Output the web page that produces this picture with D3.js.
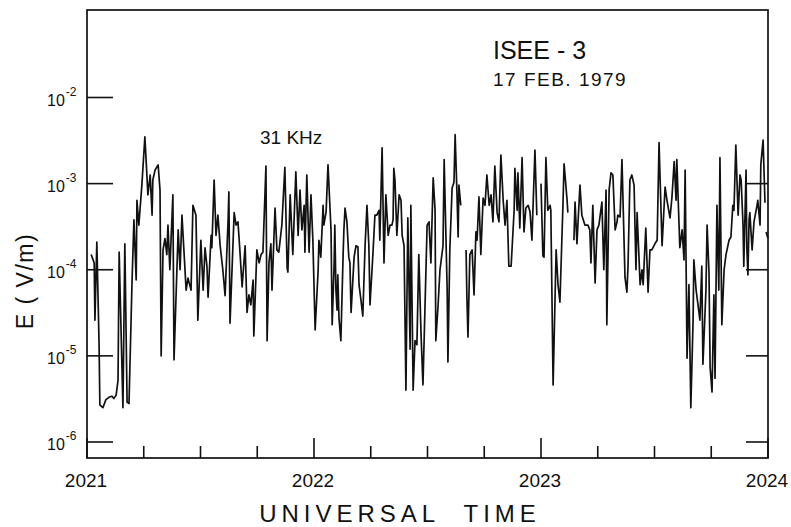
<!DOCTYPE html>
<html>
<head>
<meta charset="utf-8">
<script src="https://cdnjs.cloudflare.com/ajax/libs/d3/7.8.5/d3.min.js"></script>
<style>
  body { margin: 0; background: #fff; }
  text { font-family: "Liberation Sans", Arial, sans-serif; fill: #111; }
</style>
</head>
<body>
<svg id="chart"></svg>
<script>
// x axis: seconds after 20:21 UT, labelled by minute
const xTickSec = [0, 60, 120, 180];
const xTickLabels = ['2021', '2022', '2023', '2024'];
const xMinorSec = [15, 30, 45, 75, 90, 105, 135, 150, 165];
// y axis decades (log10 of V/m)
const yDecades = [-2, -3, -4, -5, -6];
const yRightDecades = [-3, -4, -5, -6];

// [seconds, E (V/m)]; null marks a data gap
const samples = [
  [1.1,1.5e-4],[1.9,1.2e-4],[2.1,2.6e-5],[2.6,2.1e-4],[3.2,1.3e-5],[3.4,2.7e-6],[4.2,2.5e-6],[5.0,3.1e-6],[5.8,3.3e-6],[6.6,3.4e-6],
  [7.1,3.2e-6],[7.7,3.5e-6],[8.2,5.2e-6],[8.5,1.6e-4],[9.5,2.5e-6],[10.0,2.0e-4],[10.6,2.9e-6],[11.1,2.8e-6],[11.9,7.2e-5],[12.4,3.8e-4],
  [13.0,7.6e-5],[13.2,6.4e-4],[13.7,3.3e-4],[14.0,4.9e-4],[14.5,9.6e-4],[15.3,3.5e-3],[16.1,7.4e-4],[16.7,1.26e-3],[17.2,4.3e-4],[17.4,1.1e-3],
  [18.0,1.44e-3],[18.8,1.65e-3],[19.3,8.4e-4],[19.6,1.0e-5],[20.1,1.7e-4],[20.6,2.3e-4],[21.1,1.5e-4],[21.4,3.3e-4],[21.9,1.0e-4],[22.7,7.4e-4],
  [23.0,9.0e-6],[24.1,2.9e-4],[24.6,1.0e-4],[25.1,4.3e-4],[26.2,5.8e-5],[26.7,8.0e-5],[27.5,5.8e-5],[28.0,5.6e-4],[28.8,4.3e-4],[29.3,2.6e-5],
  [30.1,2.2e-4],[30.7,5.8e-5],[31.2,1.8e-4],[31.7,1.1e-4],[32.0,4.8e-5],[32.8,2.5e-4],[33.0,1.8e-4],[33.6,1.1e-3],[34.1,2.5e-4],[34.6,4.3e-4],
  [35.2,1.9e-4],[35.9,1.0e-4],[36.5,5.0e-5],[37.3,3.8e-4],[37.5,8.0e-4],[37.8,2.4e-5],[38.9,4.6e-4],[39.4,3.3e-4],[39.9,3.6e-4],[40.4,1.7e-4],
  [41.0,6.3e-5],[41.8,1.9e-4],[42.3,3.2e-5],[42.8,5.1e-5],[43.3,3.9e-5],[43.9,7.6e-5],[44.1,1.7e-5],[44.9,1.7e-4],[45.5,1.2e-4],[46.0,1.5e-4],
  [46.5,1.6e-4],[47.3,1.6e-3],[47.6,1.5e-5],[48.1,1.2e-4],[48.6,2.0e-4],[48.9,5.8e-5],[49.7,5.2e-4],[50.2,1.7e-4],[50.7,1.6e-4],[51.5,3.3e-4],
  [52.3,1.55e-3],[52.9,1.05e-4],[53.1,9.4e-5],[53.7,7.4e-4],[54.2,2.3e-4],[54.4,1.5e-4],[55.2,1.37e-3],[55.8,2.5e-4],[56.3,8.4e-4],[56.8,2.9e-4],
  [57.4,5.6e-4],[57.6,1.6e-4],[58.1,1.26e-3],[58.7,1.6e-4],[59.2,7.4e-4],[59.7,2.2e-4],[60.3,2.0e-5],[61.1,1.0e-4],[61.3,2.2e-4],[61.8,1.4e-4],
  [62.4,5.6e-4],[62.6,3.3e-4],[63.2,4.7e-4],[63.7,1.65e-3],[64.5,2.9e-4],[64.8,2.3e-5],[65.3,1.07e-4],[65.5,3.3e-4],[65.8,5.8e-5],[66.1,3.4e-5],
  [66.3,8.7e-5],[66.6,2.75e-5],[67.1,1.5e-5],[67.7,1.5e-4],[67.9,2.9e-4],[68.2,5.2e-4],[68.7,3.6e-4],[69.2,1.4e-4],[69.5,1.2e-4],[69.8,3.2e-5],
  [70.6,1.4e-4],[71.1,1.9e-4],[71.6,1.85e-4],[71.9,6.7e-5],[72.4,4.5e-5],[72.9,2.9e-5],[73.5,1.9e-4],[74.0,5.6e-4],[74.5,1.9e-4],[74.8,3.9e-5],
  [75.6,1.6e-4],[76.1,4.3e-4],[76.6,4.3e-4],[77.2,4.9e-4],[77.4,2.2e-4],[78.0,2.6e-3],[78.5,1.2e-4],[79.0,7.4e-4],[79.6,2.5e-4],[80.1,3.3e-4],
  [80.6,3.3e-4],[80.9,3.8e-4],[81.1,1.5e-3],[81.4,1.1e-3],[81.9,2.5e-4],[82.5,7.4e-4],[83.0,6.4e-4],[83.3,2.5e-4],[83.8,1.9e-4],[84.3,4.0e-6],
  [84.8,4.0e-4],[85.4,1.2e-5],[85.6,5.6e-4],[86.2,4.0e-6],[86.7,1.5e-5],[87.2,1.35e-5],[87.7,1.5e-4],[88.3,1.75e-5],[88.8,4.6e-6],[89.9,3.3e-4],
  [90.4,3.6e-4],[90.9,1.2e-4],[91.5,1.17e-3],[92.0,4.9e-4],[92.2,1.5e-5],[92.8,3.9e-5],[93.3,1.0e-4],[94.1,1.9e-4],[94.4,1.9e-3],[95.2,5.8e-5],
  [95.4,8.5e-6],[95.9,1.7e-4],[96.5,8.9e-4],[97.0,1.04e-3],[97.3,3.7e-3],[97.8,7.4e-4],[98.1,2.4e-4],[98.3,9.6e-4],[98.8,5.6e-4],[99.5,null],
  [100.2,1.7e-4],[100.4,5.1e-5],[100.7,1.65e-5],[101.2,1.5e-4],[101.8,1.7e-4],[102.3,5.1e-5],[102.8,2.75e-4],[103.1,2.2e-4],[103.6,7.0e-4],[104.1,1.5e-4],
  [104.7,6.8e-4],[105.2,5.6e-4],[105.7,1.26e-3],[106.3,5.6e-4],[106.8,7.4e-4],[107.3,3.6e-4],[107.8,1.6e-3],[108.4,4.6e-4],[108.9,3.6e-4],[109.4,2.15e-3],
  [110.0,6.4e-4],[110.5,3.3e-4],[111.0,6.4e-4],[111.5,1.1e-4],[112.1,1.1e-4],[112.9,4.9e-4],[113.1,1.5e-3],[113.7,4.9e-4],[113.9,1.33e-3],[114.4,3.05e-4],
  [115.0,2.0e-3],[115.5,2.75e-4],[116.0,5.2e-4],[116.6,5.6e-4],[117.1,4.7e-4],[117.6,2.2e-4],[118.4,2.45e-3],[118.9,4.3e-4],[119.5,null],[120.0,1.0e-3],
  [120.5,1.45e-4],[120.8,1.4e-4],[121.3,2.0e-3],[121.8,4.9e-4],[122.4,5.6e-4],[122.6,4.9e-4],[123.2,4.6e-6],[124.0,1.7e-4],[124.5,6.7e-5],[125.0,4.2e-5],
  [125.8,5.6e-4],[126.1,1.7e-3],[126.9,6.4e-4],[127.1,4.6e-4],[127.9,null],[128.7,2.2e-4],[129.0,6.1e-4],[129.5,2.0e-4],[130.3,9.6e-4],[130.8,4.3e-4],
  [131.6,3.3e-4],[132.4,3.3e-4],[132.9,2.9e-4],[133.2,1.2e-4],[133.7,5.6e-4],[134.3,7.0e-5],[134.8,2.9e-4],[135.3,3.3e-4],[136.1,6.1e-4],[136.6,1.0e-4],
  [137.2,8.4e-4],[137.4,2.3e-5],[138.0,8.4e-4],[138.5,1.33e-3],[139.0,1.26e-3],[139.6,2.9e-4],[140.1,3.6e-4],[140.3,4.3e-4],[140.9,4.1e-4],[141.4,1.9e-3],
  [142.2,8.2e-5],[142.7,5.5e-5],[143.0,1.1e-4],[143.5,1.1e-3],[144.0,1.26e-3],[144.6,9.6e-4],[145.1,1.0e-4],[145.4,4.6e-4],[146.2,6.7e-5],[146.7,1.0e-4],
  [147.0,6.7e-5],[147.7,3.05e-4],[148.3,5.5e-5],[148.8,1.7e-4],[149.3,1.7e-4],[150.1,2.0e-4],[150.7,2.2e-4],[151.2,3.0e-3],[152.0,1.9e-4],[152.8,9.1e-4],
  [153.3,6.4e-4],[154.1,4.0e-4],[154.6,6.8e-4],[155.2,1.8e-3],[155.7,6.4e-4],[155.9,1.9e-3],[156.7,1.8e-4],[157.3,2.9e-4],[157.8,1.3e-4],[158.1,1.44e-3],
  [158.6,9.4e-6],[159.1,6.7e-5],[159.6,2.5e-6],[160.2,2.6e-5],[160.4,1.3e-4],[161.0,5.8e-5],[161.5,3.9e-5],[162.0,2.6e-5],[162.5,1.1e-4],[162.8,8.0e-6],
  [163.6,5.8e-5],[163.9,3.3e-4],[164.4,9.4e-5],[164.7,7.4e-6],[165.2,3.8e-6],[165.7,5.1e-5],[166.0,5.5e-6],[166.5,5.6e-4],[167.0,5.8e-5],[167.3,2.0e-3],
  [167.8,2.3e-5],[168.4,1.0e-4],[168.9,1.5e-4],[169.7,2.2e-4],[170.2,2.4e-4],[170.7,5.6e-4],[171.0,4.9e-4],[171.5,2.8e-3],[172.1,4.3e-4],[172.6,1.26e-3],
  [172.9,1.1e-3],[173.4,3.3e-4],[173.6,1.1e-4],[174.2,1.44e-3],[174.4,1.8e-4],[174.7,8.7e-5],[175.0,3.8e-4],[175.2,4.6e-4],[175.8,1.7e-4],[176.3,3.6e-4],
  [177.1,5.6e-4],[177.3,6.4e-4],[177.9,3.3e-4],[178.1,1.65e-3],[178.7,3.2e-3],[179.2,6.0e-4],[179.35,null],[179.5,2.75e-4],[180.0,2.3e-4]
];

const W = 791, H = 527;
const plot = { left: 87, right: 768, top: 10, bottom: 458 };

const svg = d3.select('#chart').attr('width', W).attr('height', H);

let x = d3.scaleLinear().domain([0, 180]).range([plot.left, plot.right]);
let y = d3.scaleLog()
    .domain([Math.pow(10, -6.186), Math.pow(10, -0.984)])
    .range([plot.bottom, plot.top]);

// trace
let line = d3.line()
    .defined(d => d[1] != null)
    .x(d => x(d[0]))
    .y(d => y(d[1]));

svg.append('path')
    .datum(samples)
    .attr('d', line)
    .attr('fill', 'none')
    .attr('stroke', '#111')
    .attr('stroke-width', 1.7)
    .attr('stroke-linejoin', 'round');

// frame
svg.append('rect')
    .attr('x', plot.left).attr('y', plot.top)
    .attr('width', plot.right - plot.left)
    .attr('height', plot.bottom - plot.top)
    .attr('fill', 'none')
    .attr('stroke', '#111')
    .attr('stroke-width', 1.7);

// y ticks (inside) and labels
let gy = svg.append('g');
yDecades.forEach(k => {
    let yy = y(Math.pow(10, k));
    gy.append('line')
        .attr('x1', plot.left).attr('x2', plot.left + 26)
        .attr('y1', yy).attr('y2', yy)
        .attr('stroke', '#111').attr('stroke-width', 1.6);
    let t = gy.append('text')
        .attr('x', 47).attr('y', yy + 8.5)
        .attr('font-size', '16px');
    t.append('tspan').text('10');
    t.append('tspan')
        .attr('dy', -10)
        .attr('dx', 1)
        .attr('font-size', '12px')
        .text('-' + (-k));
});
yRightDecades.forEach(k => {
    let yy = y(Math.pow(10, k));
    gy.append('line')
        .attr('x1', plot.right - 22).attr('x2', plot.right)
        .attr('y1', yy).attr('y2', yy)
        .attr('stroke', '#111').attr('stroke-width', 1.6);
});

// x ticks
let gx = svg.append('g');
xTickSec.forEach((s, i) => {
    gx.append('line')
        .attr('x1', x(s)).attr('x2', x(s))
        .attr('y1', plot.bottom).attr('y2', plot.bottom - 20)
        .attr('stroke', '#111').attr('stroke-width', 1.6);
    gx.append('text')
        .attr('x', x(s) - 1).attr('y', 487)
        .attr('text-anchor', 'middle')
        .attr('font-size', '19px')
        .text(xTickLabels[i]);
});
xMinorSec.forEach(s => {
    gx.append('line')
        .attr('x1', x(s)).attr('x2', x(s))
        .attr('y1', plot.bottom).attr('y2', plot.bottom - 12)
        .attr('stroke', '#111').attr('stroke-width', 1.6);
});

// axis titles
svg.append('text')
    .attr('x', 400).attr('y', 522)
    .attr('text-anchor', 'middle')
    .attr('font-size', '24px')
    .attr('letter-spacing', '5px')
    .text('UNIVERSAL\u00a0\u00a0TIME');

svg.append('text')
    .attr('transform', 'translate(33, 281) rotate(-90)')
    .attr('text-anchor', 'middle')
    .attr('font-size', '23px')
    .attr('letter-spacing', '1.5px')
    .text('E ( V/m)');

// annotations
svg.append('text')
    .attr('x', 493).attr('y', 59)
    .attr('font-size', '25px')
    .text('ISEE - 3');
svg.append('text')
    .attr('x', 493).attr('y', 86)
    .attr('font-size', '19px')
    .attr('letter-spacing', '1.5px')
    .text('17 FEB. 1979');
svg.append('text')
    .attr('x', 260).attr('y', 144)
    .attr('font-size', '19px')
    .text('31 KHz');
</script>
</body>
</html>
